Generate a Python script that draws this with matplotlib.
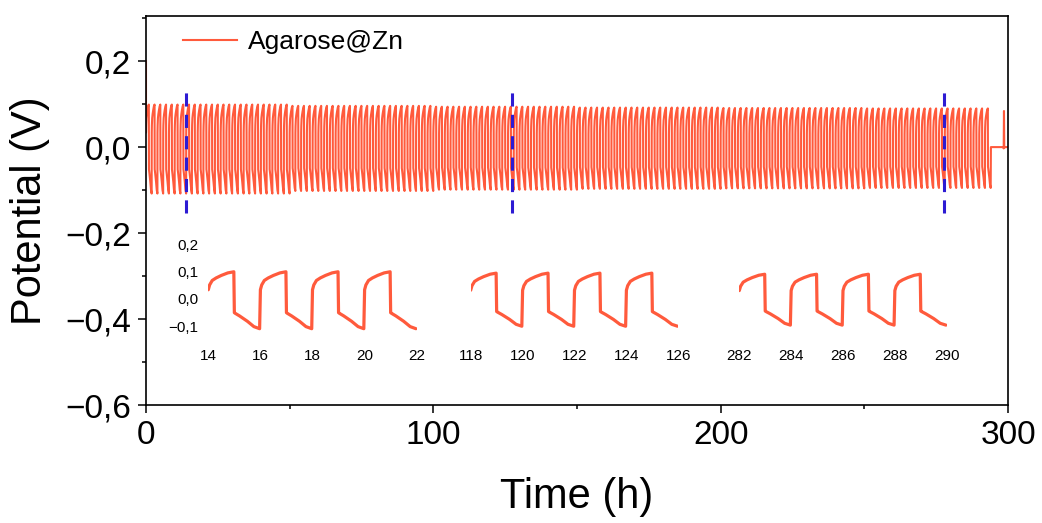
import numpy as np
import matplotlib.pyplot as plt
from matplotlib.ticker import MultipleLocator, FuncFormatter

plt.rcParams['font.family'] = ['Liberation Sans', 'DejaVu Sans']

# one 2 h plating/stripping cycle (offset in h, V)
cycle_t = [0.0, 0.05, 0.15, 0.3, 0.5, 0.75, 0.98, 1.0, 1.03, 1.2, 1.5, 1.75, 1.97]
cycle_v = [0.033, 0.050, 0.066, 0.075, 0.084, 0.093, 0.097, -0.046, -0.048, -0.057, -0.075, -0.093, -0.100]

# peak / trough levels of the long trace, read every 50 h
seg_start = [0, 50, 100, 150, 200, 250]
seg_peak = [0.099, 0.096, 0.094, 0.092, 0.091, 0.090]
seg_trough = [-0.108, -0.102, -0.099, -0.097, -0.096, -0.095]
n_cycles = 147

# first point and the rest period at the end
head_t = [0.0]
head_v = [0.20]
tail_t = [294.05, 298.4, 298.5, 298.6, 298.7, 298.8, 300.0]
tail_v = [0.0, 0.0, -0.003, 0.084, -0.002, 0.0, 0.0]

# blue markers and zoomed windows
dash_t = [14.0, 127.3, 277.7]
inset_ranges = [(14, 22), (118, 126), (282, 290)]
inset_xticks = [[14, 16, 18, 20, 22], [118, 120, 122, 124, 126], [282, 284, 286, 288, 290]]
inset_yticks = [0.2, 0.1, 0.0, -0.1]

red = '#ff5a3c'
blue = '#2d1bd3'

# build the trace cycle by cycle
ct = np.array(cycle_t)
cv = np.array(cycle_v)
t_list = list(head_t)
v_list = list(head_v)
for k in range(n_cycles):
    t0 = 2 * k
    seg = np.searchsorted(seg_start, t0, side='right') - 1
    scale = np.where(cv > 0, seg_peak[seg] / cv.max(), seg_trough[seg] / cv.min())
    t_list.extend(t0 + ct)
    v_list.extend(cv * scale)
t_list.extend(tail_t)
v_list.extend(tail_v)
t = np.array(t_list)
v = np.array(v_list)


def comma_fmt(x, pos):
    if abs(x) < 1e-9:
        x = 0.0
    return f'{x:.1f}'.replace('.', ',').replace('-', '\u2212')


fig = plt.figure(figsize=(10.42, 5.23), dpi=100)
W, H = 1042, 523
ax = fig.add_axes([146 / W, 1 - 405 / H, 862 / W, 389 / H])

ax.plot(t, v, color=red, lw=1.5, label='Agarose@Zn')
ax.vlines(dash_t, -0.153, 0.137, colors=blue, linestyles=(0, (4.3, 2.7)), lw=2.2, zorder=5)

ax.set_xlim(0, 300)
ax.set_ylim(-0.6, 0.305)
ax.xaxis.set_major_locator(MultipleLocator(100))
ax.xaxis.set_minor_locator(MultipleLocator(50))
ax.yaxis.set_major_locator(MultipleLocator(0.2))
ax.yaxis.set_minor_locator(MultipleLocator(0.1))
ax.yaxis.set_major_formatter(FuncFormatter(comma_fmt))
ax.tick_params(which='major', direction='out', length=6, width=1.1, labelsize=24, pad=5)
ax.tick_params(which='minor', direction='out', length=3, width=1.1)
for s in ax.spines.values():
    s.set_linewidth(1.2)

ax.set_xlabel('Time (h)', fontsize=30)
ax.set_ylabel('Potential (V)', fontsize=30)
ax.xaxis.set_label_coords(0.5, -0.185)
ax.yaxis.set_label_coords(-0.111, 0.5)

ax.legend(loc='center left', bbox_to_anchor=(0.043, 0.933), frameon=False,
          fontsize=19, handlelength=2.05, handletextpad=0.42,
          borderpad=0, borderaxespad=0)

# zoomed windows below the trace
inset_px = [(208.3, 416.7), (470.7, 678.3), (739.3, 946.7)]
for i, ((lo, hi), (x0, x1)) in enumerate(zip(inset_ranges, inset_px)):
    ins = fig.add_axes([x0 / W, 1 - 340.25 / H, (x1 - x0) / W, 110 / H])
    ins.patch.set_alpha(0)
    m = (t >= lo) & (t < hi)
    ins.plot(t[m], v[m], color=red, lw=2.3, solid_capstyle='round')
    ins.set_xlim(lo, hi)
    ins.set_ylim(-0.15, 0.25)
    ins.set_xticks(inset_xticks[i])
    if i == 0:
        ins.set_yticks(inset_yticks)
        ins.yaxis.set_major_formatter(FuncFormatter(comma_fmt))
    else:
        ins.set_yticks([])
    ins.tick_params(length=0, labelsize=11)
    ins.tick_params(axis='x', pad=6)
    ins.tick_params(axis='y', pad=7)
    for s in ins.spines.values():
        s.set_visible(False)

fig.savefig('out.png', dpi=100)
